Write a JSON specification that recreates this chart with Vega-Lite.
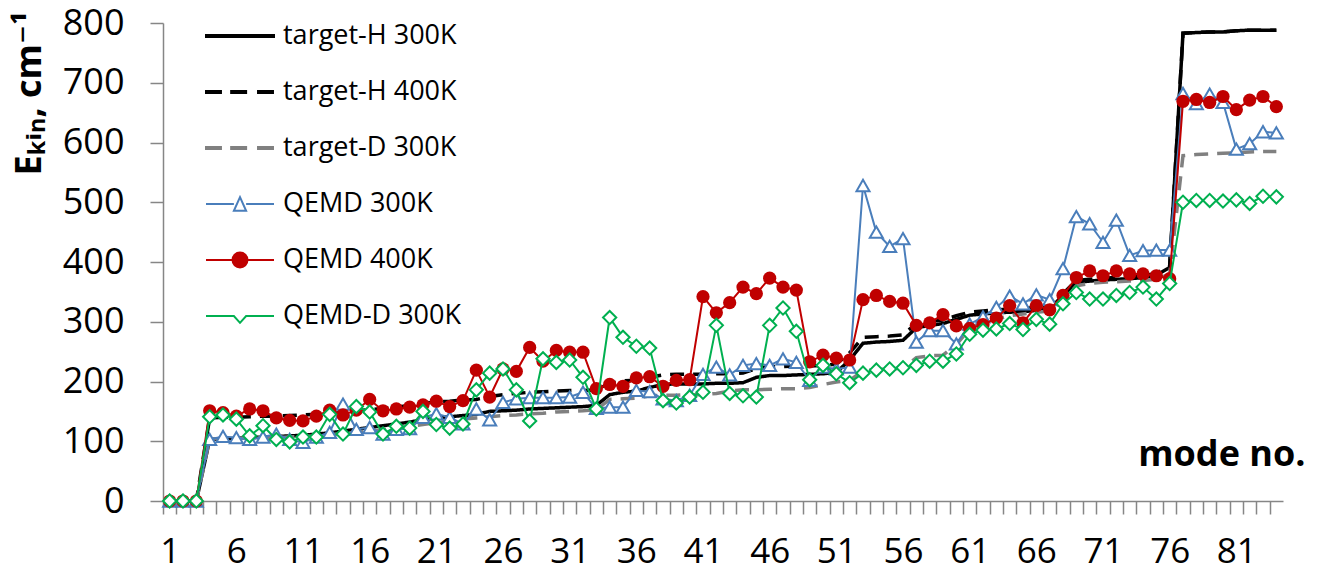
{
"$schema":"https://vega.github.io/schema/vega-lite/v6.json",
"autosize":{"type":"none"},
"padding":{"left":163,"top":23,"right":40,"bottom":72},
"width":1120,"height":478,
"background":"white",
"config":{"view":{"stroke":null},"font":"Open Sans"},
"data":{"values":[
{"m":1,"tH300":0,"tH400":0,"tD300":0,"q300":0,"q400":0,"qD300":0},
{"m":2,"tH300":0,"tH400":0,"tD300":0,"q300":0,"q400":0,"qD300":0},
{"m":3,"tH300":0,"tH400":0,"tD300":0,"q300":0,"q400":0,"qD300":0},
{"m":4,"tH300":103,"tH400":139,"tD300":104,"q300":103,"q400":151,"qD300":141},
{"m":5,"tH300":104,"tH400":140,"tD300":104,"q300":108,"q400":148,"qD300":144},
{"m":6,"tH300":105,"tH400":140,"tD300":105,"q300":106,"q400":142,"qD300":137},
{"m":7,"tH300":106,"tH400":141,"tD300":105,"q300":103,"q400":154,"qD300":109},
{"m":8,"tH300":107,"tH400":142,"tD300":106,"q300":107,"q400":151,"qD300":126},
{"m":9,"tH300":108,"tH400":142,"tD300":106,"q300":112,"q400":139,"qD300":103},
{"m":10,"tH300":109,"tH400":143,"tD300":107,"q300":103,"q400":135,"qD300":99},
{"m":11,"tH300":110,"tH400":144,"tD300":108,"q300":98,"q400":134,"qD300":107},
{"m":12,"tH300":112,"tH400":145,"tD300":109,"q300":107,"q400":142,"qD300":107},
{"m":13,"tH300":114,"tH400":146,"tD300":111,"q300":115,"q400":152,"qD300":145},
{"m":14,"tH300":117,"tH400":148,"tD300":113,"q300":162,"q400":144,"qD300":112},
{"m":15,"tH300":120,"tH400":151,"tD300":115,"q300":120,"q400":152,"qD300":158},
{"m":16,"tH300":123,"tH400":153,"tD300":117,"q300":123,"q400":170,"qD300":149},
{"m":17,"tH300":126,"tH400":155,"tD300":119,"q300":112,"q400":151,"qD300":112},
{"m":18,"tH300":129,"tH400":157,"tD300":122,"q300":120,"q400":154,"qD300":125},
{"m":19,"tH300":132,"tH400":160,"tD300":125,"q300":121,"q400":157,"qD300":122},
{"m":20,"tH300":136,"tH400":163,"tD300":128,"q300":140,"q400":161,"qD300":150},
{"m":21,"tH300":139,"tH400":166,"tD300":131,"q300":146,"q400":167,"qD300":128},
{"m":22,"tH300":141,"tH400":167,"tD300":134,"q300":140,"q400":158,"qD300":122},
{"m":23,"tH300":143,"tH400":169,"tD300":137,"q300":129,"q400":168,"qD300":129},
{"m":24,"tH300":145,"tH400":170,"tD300":139,"q300":154,"q400":219,"qD300":186},
{"m":25,"tH300":150,"tH400":175,"tD300":141,"q300":136,"q400":174,"qD300":214},
{"m":26,"tH300":151,"tH400":178,"tD300":143,"q300":165,"q400":221,"qD300":221},
{"m":27,"tH300":152,"tH400":180,"tD300":144,"q300":171,"q400":217,"qD300":186},
{"m":28,"tH300":154,"tH400":182,"tD300":146,"q300":173,"q400":257,"qD300":134},
{"m":29,"tH300":155,"tH400":183,"tD300":147,"q300":173,"q400":234,"qD300":238},
{"m":30,"tH300":156,"tH400":184,"tD300":149,"q300":173,"q400":252,"qD300":232},
{"m":31,"tH300":157,"tH400":185,"tD300":150,"q300":174,"q400":249,"qD300":236},
{"m":32,"tH300":158,"tH400":185,"tD300":151,"q300":182,"q400":249,"qD300":207},
{"m":33,"tH300":160,"tH400":186,"tD300":153,"q300":155,"q400":188,"qD300":154},
{"m":34,"tH300":178,"tH400":197,"tD300":170,"q300":157,"q400":195,"qD300":307},
{"m":35,"tH300":182,"tH400":201,"tD300":171,"q300":157,"q400":192,"qD300":274},
{"m":36,"tH300":184,"tH400":202,"tD300":172,"q300":185,"q400":206,"qD300":259},
{"m":37,"tH300":190,"tH400":207,"tD300":176,"q300":183,"q400":208,"qD300":256},
{"m":38,"tH300":195,"tH400":211,"tD300":177,"q300":171,"q400":192,"qD300":168},
{"m":39,"tH300":196,"tH400":212,"tD300":177,"q300":168,"q400":202,"qD300":164},
{"m":40,"tH300":196,"tH400":212,"tD300":178,"q300":177,"q400":203,"qD300":174},
{"m":41,"tH300":196,"tH400":212,"tD300":178,"q300":212,"q400":342,"qD300":182},
{"m":42,"tH300":197,"tH400":213,"tD300":180,"q300":224,"q400":315,"qD300":294},
{"m":43,"tH300":197,"tH400":213,"tD300":184,"q300":211,"q400":332,"qD300":180},
{"m":44,"tH300":198,"tH400":214,"tD300":186,"q300":227,"q400":358,"qD300":176},
{"m":45,"tH300":207,"tH400":222,"tD300":186,"q300":230,"q400":347,"qD300":174},
{"m":46,"tH300":210,"tH400":225,"tD300":187,"q300":227,"q400":373,"qD300":294},
{"m":47,"tH300":210,"tH400":225,"tD300":188,"q300":238,"q400":358,"qD300":323},
{"m":48,"tH300":211,"tH400":226,"tD300":188,"q300":232,"q400":353,"qD300":284},
{"m":49,"tH300":212,"tH400":226,"tD300":190,"q300":202,"q400":233,"qD300":203},
{"m":50,"tH300":213,"tH400":227,"tD300":195,"q300":224,"q400":244,"qD300":227},
{"m":51,"tH300":215,"tH400":229,"tD300":199,"q300":221,"q400":239,"qD300":213},
{"m":52,"tH300":236,"tH400":248,"tD300":202,"q300":224,"q400":236,"qD300":198},
{"m":53,"tH300":264,"tH400":274,"tD300":218,"q300":528,"q400":337,"qD300":214},
{"m":54,"tH300":266,"tH400":275,"tD300":220,"q300":450,"q400":344,"qD300":219},
{"m":55,"tH300":267,"tH400":276,"tD300":221,"q300":426,"q400":334,"qD300":221},
{"m":56,"tH300":269,"tH400":278,"tD300":222,"q300":439,"q400":331,"qD300":223},
{"m":57,"tH300":290,"tH400":297,"tD300":240,"q300":266,"q400":294,"qD300":227},
{"m":58,"tH300":294,"tH400":301,"tD300":243,"q300":285,"q400":298,"qD300":234},
{"m":59,"tH300":297,"tH400":303,"tD300":244,"q300":285,"q400":312,"qD300":234},
{"m":60,"tH300":304,"tH400":310,"tD300":262,"q300":263,"q400":293,"qD300":246},
{"m":61,"tH300":311,"tH400":316,"tD300":288,"q300":296,"q400":289,"qD300":279},
{"m":62,"tH300":313,"tH400":318,"tD300":300,"q300":308,"q400":295,"qD300":286},
{"m":63,"tH300":315,"tH400":320,"tD300":304,"q300":324,"q400":306,"qD300":288},
{"m":64,"tH300":316,"tH400":321,"tD300":310,"q300":343,"q400":327,"qD300":297},
{"m":65,"tH300":317,"tH400":322,"tD300":313,"q300":330,"q400":298,"qD300":287},
{"m":66,"tH300":319,"tH400":324,"tD300":316,"q300":345,"q400":327,"qD300":304},
{"m":67,"tH300":322,"tH400":326,"tD300":318,"q300":337,"q400":320,"qD300":296},
{"m":68,"tH300":344,"tH400":347,"tD300":335,"q300":389,"q400":344,"qD300":330},
{"m":69,"tH300":366,"tH400":369,"tD300":360,"q300":476,"q400":374,"qD300":349},
{"m":70,"tH300":368,"tH400":371,"tD300":364,"q300":464,"q400":385,"qD300":338},
{"m":71,"tH300":370,"tH400":373,"tD300":366,"q300":433,"q400":377,"qD300":338},
{"m":72,"tH300":371,"tH400":374,"tD300":367,"q300":470,"q400":385,"qD300":344},
{"m":73,"tH300":372,"tH400":375,"tD300":368,"q300":411,"q400":380,"qD300":349},
{"m":74,"tH300":374,"tH400":377,"tD300":369,"q300":419,"q400":380,"qD300":358},
{"m":75,"tH300":378,"tH400":381,"tD300":371,"q300":420,"q400":377,"qD300":338},
{"m":76,"tH300":391,"tH400":393,"tD300":380,"q300":420,"q400":372,"qD300":364},
{"m":77,"tH300":783,"tH400":783,"tD300":578,"q300":682,"q400":669,"qD300":500},
{"m":78,"tH300":784,"tH400":784,"tD300":580,"q300":665,"q400":672,"qD300":503},
{"m":79,"tH300":785,"tH400":785,"tD300":581,"q300":681,"q400":667,"qD300":503},
{"m":80,"tH300":785,"tH400":785,"tD300":582,"q300":667,"q400":677,"qD300":502},
{"m":81,"tH300":787,"tH400":787,"tD300":583,"q300":589,"q400":655,"qD300":504},
{"m":82,"tH300":788,"tH400":788,"tD300":584,"q300":598,"q400":671,"qD300":498},
{"m":83,"tH300":788,"tH400":788,"tD300":585,"q300":618,"q400":677,"qD300":510},
{"m":84,"tH300":788,"tH400":788,"tD300":585,"q300":616,"q400":660,"qD300":509}
]},
"transform":[{"fold":["tH300","tH400","tD300","q300","q400","qD300"],"as":["key","value"]}],
"encoding":{
  "x":{"field":"m","type":"quantitative","scale":{"domain":[0.5,84.5],"nice":false,"zero":false},
    "axis":{"title":"mode no.","titleFont":"Open Sans","titleFontSize":36,"titleFontWeight":"bold","titleColor":"black",
      "titleAnchor":"end","titleAlign":"right","titleBaseline":"alphabetic","titleX":1142,"titleY":-36,
      "values":[1,2,3,4,5,6,7,8,9,10,11,12,13,14,15,16,17,18,19,20,21,22,23,24,25,26,27,28,29,30,31,32,33,34,35,36,37,38,39,40,41,42,43,44,45,46,47,48,49,50,51,52,53,54,55,56,57,58,59,60,61,62,63,64,65,66,67,68,69,70,71,72,73,74,75,76,77,78,79,80,81,82,83,84,85],
      "labelExpr":"((datum.value - 1) % 5 === 0 && datum.value < 85) ? datum.label : ''",
      "labelOverlap":false,"labelFlush":false,"labelFont":"Open Sans","labelFontSize":35,"labelColor":"black","labelPadding":20,
      "tickOffset":-6.667,"labelOffset":6.667,"tickSize":13,"tickColor":"#868686","tickWidth":1.5,
      "domainColor":"#868686","domainWidth":1.5,"grid":false}},
  "y":{"field":"value","type":"quantitative","scale":{"domain":[0,800],"nice":false},
    "axis":{"title":"Eₖᵢₙ, cm⁻¹","titleFont":"Open Sans, DejaVu Sans","titleFontSize":36,"titleFontWeight":"bold","titleColor":"black",
      "titleAngle":270,"titleAlign":"center","titleBaseline":"alphabetic","titleX":-123,"titleY":70,
      "values":[0,100,200,300,400,500,600,700,800],"labelFont":"Open Sans","labelFontSize":36,"labelColor":"black","labelPadding":26,
      "tickSize":13,"tickColor":"#868686","tickWidth":1.5,"domainColor":"#868686","domainWidth":1.5,"grid":false}}
},
"layer":[
  {"transform":[{"filter":"datum.key === 'tH300' || datum.key === 'tH400' || datum.key === 'tD300'"}],
   "mark":{"type":"line","strokeWidth":3.5},
   "encoding":{
     "color":{"field":"key","type":"nominal","scale":{"domain":["tH300","tH400","tD300"],"range":["#000000","#000000","#808080"]},"legend":null},
     "strokeDash":{"field":"key","type":"nominal","scale":{"domain":["tH300","tH400","tD300"],"range":[[1,0],[14,9],[14,9]]},"legend":null}}},
  {"transform":[{"filter":"datum.key === 'q300'"}],
   "mark":{"type":"line","color":"#4A7EBB","strokeWidth":2,
     "point":{"shape":"triangle-up","filled":false,"fill":"white","stroke":"#4A7EBB","size":170,"strokeWidth":2}}},
  {"transform":[{"filter":"datum.key === 'q400'"}],
   "mark":{"type":"line","color":"#C00000","strokeWidth":2,
     "point":{"shape":"circle","filled":true,"fill":"#C00000","size":175}}},
  {"transform":[{"filter":"datum.key === 'qD300'"}],
   "mark":{"type":"line","color":"#00B050","strokeWidth":2,
     "point":{"shape":"diamond","filled":false,"fill":"white","stroke":"#00B050","size":175,"strokeWidth":2}}},
  {"transform":[{"filter":"datum.m === 1"}],
   "mark":{"type":"point","opacity":0,"strokeWidth":2},
   "encoding":{
     "shape":{"field":"key","type":"nominal","scale":{"domain":["tH300","tH400","tD300","q300","q400","qD300"],
       "range":["M-1,-0.03H1V0.03H-1Z",
                "M-1,-0.03H-0.56V0.03H-1ZM-0.26,-0.03H0.18V0.03H-0.26ZM0.53,-0.03H0.97V0.03H0.53Z",
                "M-1,-0.03H-0.56V0.03H-1ZM-0.26,-0.03H0.18V0.03H-0.26ZM0.53,-0.03H0.97V0.03H0.53Z",
                "M-1,0H-0.18M0.18,0H1M0,-0.2L0.18,0.2H-0.18Z",
                "M-1,0H1M-0.22,0A0.22,0.22,0,1,1,0.22,0A0.22,0.22,0,1,1,-0.22,0Z",
                "M-1,0H-0.18L0,0.2L0.18,0H1"]},
       "legend":{"title":null,"orient":"none","legendX":42,"legendY":-22,"padding":0,"symbolSize":4624,"symbolStrokeWidth":2,"symbolOpacity":1,
         "labelFont":"Open Sans","labelFontSize":27,"labelColor":"black","labelOffset":8,"rowPadding":8,"labelLimit":400,
         "labelExpr":"datum.value === 'tH300' ? 'target-H 300K' : datum.value === 'tH400' ? 'target-H 400K' : datum.value === 'tD300' ? 'target-D 300K' : datum.value === 'q300' ? 'QEMD 300K' : datum.value === 'q400' ? 'QEMD 400K' : 'QEMD-D 300K'"}},
     "stroke":{"field":"key","type":"nominal","scale":{"domain":["tH300","tH400","tD300","q300","q400","qD300"],"range":["#000000","#000000","#808080","#4A7EBB","#C00000","#00B050"]},
       "legend":{"title":null}},
     "fill":{"field":"key","type":"nominal","scale":{"domain":["tH300","tH400","tD300","q300","q400","qD300"],"range":["#000000","#000000","#808080","#ffffff","#C00000","#ffffff"]},
       "legend":{"title":null}}}}
]
}
